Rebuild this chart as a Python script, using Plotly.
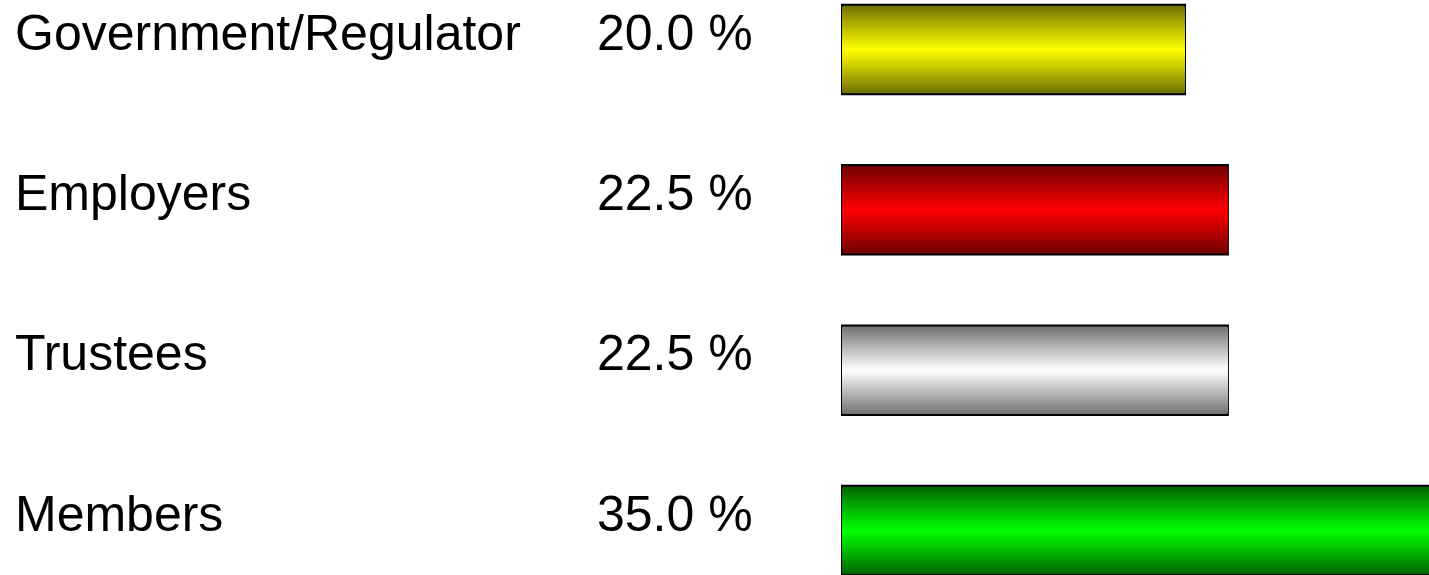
import plotly.graph_objects as go

categories = ["Government/Regulator", "Employers", "Trustees", "Members"]
values = [20.0, 22.5, 22.5, 35.0]
edge_colors = [(108, 108, 0), (108, 0, 0), (108, 108, 108), (0, 96, 0)]
center_colors = [(255, 255, 0), (255, 0, 0), (255, 255, 255), (0, 255, 0)]

pos = list(range(len(categories)))
THICK = 0.558
N = 30

def lerp(a, b, t):
    return "rgb(%d,%d,%d)" % tuple(round(a[i] + (b[i] - a[i]) * t) for i in range(3))

fig = go.Figure()
for k in range(N):
    frac = 1 - k / N
    t = (k + 0.5) / N
    t = t ** 0.95
    cols = [lerp(edge_colors[i], center_colors[i], t) for i in range(len(values))]
    fig.add_trace(go.Bar(
        x=values, y=pos, orientation="h", width=THICK * frac,
        marker=dict(color=cols,
                    line=dict(color="black", width=2 if k == 0 else 0)),
        hoverinfo="skip", showlegend=False,
    ))

font = dict(family="Liberation Sans, Arial", size=50, color="black")
annotations = []
for i, (c, v) in enumerate(zip(categories, values)):
    annotations.append(dict(
        x=13 / 1429, xref="paper", xanchor="left", y=i, yref="y", yshift=17,
        text=c, showarrow=False, font=font,
    ))
    annotations.append(dict(
        x=755 / 1429, xref="paper", xanchor="right", y=i, yref="y", yshift=17,
        text="%.1f %%" % v, showarrow=False, font=font,
    ))

px_per_unit = 17.15
x0 = 842
fig.update_layout(
    width=1429, height=575,
    margin=dict(l=0, r=0, t=0, b=0),
    paper_bgcolor="white", plot_bgcolor="white",
    barmode="overlay",
    xaxis=dict(range=[-x0 / px_per_unit, (1429 - x0) / px_per_unit], visible=False, fixedrange=True),
    yaxis=dict(range=[3 + 44.5 / 160.33, -49.5 / 160.33], visible=False, fixedrange=True),
    annotations=annotations,
)
fig.write_html(
    "out.html",
    config={"displayModeBar": False},
    post_script="document.body.style.margin='0';document.body.style.overflow='hidden';",
)
